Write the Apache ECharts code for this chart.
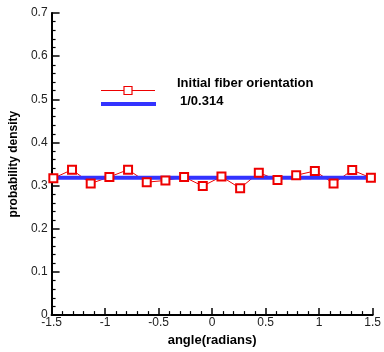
<!DOCTYPE html>
<html><head><meta charset="utf-8">
<script src="https://cdn.jsdelivr.net/npm/echarts@6/dist/echarts.min.js"></script>
<style>html,body{margin:0;padding:0;background:#fff}#c{width:384px;height:352px}</style>
</head><body><div id="c"></div>
<script>
var angles = [-1.4835, -1.3090, -1.1345, -0.9599, -0.7854, -0.6109, -0.4363, -0.2618, -0.0873, 0.0873, 0.2618, 0.4363, 0.6109, 0.7854, 0.9599, 1.1345, 1.3090, 1.4835];
var density = [0.317, 0.337, 0.305, 0.320, 0.337, 0.308, 0.312, 0.320, 0.299, 0.321, 0.294, 0.330, 0.313, 0.324, 0.334, 0.305, 0.336, 0.318];
var refX = [-1.5, 1.5];
var refY = [0.3183, 0.3183];
var seriesNames = ['Initial fiber orientation', '1/0.314'];
var xTicks = [-1.5, -1, -0.5, 0, 0.5, 1, 1.5];
var yTicks = [0, 0.1, 0.2, 0.3, 0.4, 0.5, 0.6, 0.7];

var chart = echarts.init(document.getElementById('c'));
var font = 'Liberation Sans, Arial, sans-serif';
var RED = '#ee0000', BLUE = '#3333ff';
var axisCommon = {
  axisLine: {show: true, onZero: false, lineStyle: {color: '#000', width: 2}},
  axisTick: {show: true, inside: true, length: 7, lineStyle: {color: '#000', width: 1.5}},
  minorTick: {show: true, splitNumber: 5, length: 4, lineStyle: {color: '#000', width: 1.2}},
  splitLine: {show: false}
};
chart.setOption({
  animation: false,
  grid: {left: 46, right: 7, top: 13, bottom: 33},
  xAxis: Object.assign({}, axisCommon, {
    type: 'value', min: xTicks[0], max: xTicks[xTicks.length - 1], interval: 0.5,
    name: 'angle(radians)', nameLocation: 'middle', nameGap: 12,
    nameTextStyle: {fontFamily: font, fontWeight: 'bold', fontSize: 13, color: '#000'},
    axisLabel: {fontFamily: font, fontSize: 12, color: '#222', margin: 2,
      formatter: function (v) { return String(+v.toFixed(2)); }}
  }),
  yAxis: Object.assign({}, axisCommon, {
    type: 'value', min: yTicks[0], max: yTicks[yTicks.length - 1], interval: 0.1,
    name: 'probability density', nameLocation: 'middle', nameGap: 26,
    nameTextStyle: {fontFamily: font, fontWeight: 'bold', fontSize: 12, color: '#000'},
    axisTick: {show: true, inside: true, length: 8, lineStyle: {color: '#000', width: 1.5}},
    axisLabel: {fontFamily: font, fontSize: 12, color: '#222', margin: 4,
      formatter: function (v) { return String(+v.toFixed(2)); }}
  }),
  series: [
    {name: seriesNames[0], type: 'line', data: angles.map(function (a, i) { return [a, density[i]]; }),
      symbol: 'emptyRect', symbolSize: 8, clip: false,
      lineStyle: {color: RED, width: 1}, itemStyle: {color: RED, borderColor: RED, borderWidth: 1.2}},
    {name: seriesNames[1], type: 'line', data: refX.map(function (a, i) { return [a, refY[i]]; }),
      symbol: 'none', lineStyle: {color: BLUE, width: 4}, z: 3}
  ],
  graphic: [
    {type: 'line', shape: {x1: 101, y1: 90.5, x2: 155, y2: 90.5}, style: {stroke: RED, lineWidth: 1}},
    {type: 'rect', shape: {x: 124, y: 86.5, width: 8, height: 8}, style: {fill: '#fff', stroke: RED, lineWidth: 1.2}},
    {type: 'text', left: 177, top: 77, style: {text: seriesNames[0], font: 'bold 13px ' + font, fill: '#000'}},
    {type: 'line', shape: {x1: 101, y1: 104, x2: 156, y2: 104}, style: {stroke: BLUE, lineWidth: 4}},
    {type: 'text', left: 180, top: 95, style: {text: seriesNames[1], font: 'bold 13px ' + font, fill: '#000'}}
  ]
});
</script></body></html>
